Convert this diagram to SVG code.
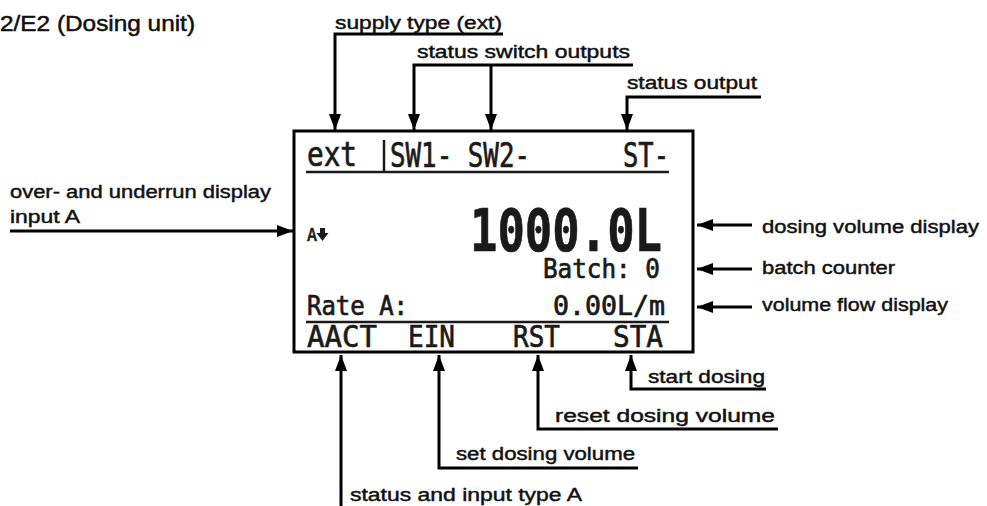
<svg xmlns="http://www.w3.org/2000/svg" width="987" height="506" viewBox="0 0 987 506">
<style>
.lbl{font-family:"Liberation Sans",Arial,sans-serif;font-size:18px;fill:#111;stroke:#111;stroke-width:0.45}
.ttl{font-family:"Liberation Sans",Arial,sans-serif;font-size:22px;fill:#111;stroke:#111;stroke-width:0.5}
.lcd{font-family:"DejaVu Sans Mono",monospace;fill:#1a1a1a;stroke:#1a1a1a;stroke-width:0.7}
.ln{stroke:#000;stroke-width:3;fill:none}
.lcdl{stroke:#1a1a1a;stroke-width:2.5;fill:none}
</style>
<defs>
<marker id="ah" viewBox="0 0 16 12" refX="16" refY="6" markerWidth="16" markerHeight="12" markerUnits="userSpaceOnUse" orient="auto">
<path d="M0,0 L16,6 L0,12 Z" fill="#000"/>
</marker>
</defs>
<text class="ttl" x="0" y="31" textLength="195" lengthAdjust="spacingAndGlyphs">2/E2 (Dosing unit)</text>

<g id="display">
<rect x="294" y="131" width="399" height="221" fill="#fff" stroke="#000" stroke-width="3"/>
<line class="lcdl" x1="306" y1="172" x2="669" y2="172"/>
<line class="lcdl" x1="384" y1="140" x2="384" y2="172"/>
<line class="lcdl" x1="306" y1="322" x2="669" y2="322"/>
<text class="lcd" x="307" y="166" font-size="33" textLength="50" lengthAdjust="spacingAndGlyphs">ext</text>
<text class="lcd" x="390" y="167" font-size="33" textLength="140" lengthAdjust="spacingAndGlyphs">SW1- SW2-</text>
<text class="lcd" x="623" y="167" font-size="33" textLength="46" lengthAdjust="spacingAndGlyphs">ST-</text>
<text class="lcd" x="307" y="241" font-size="18" textLength="10" lengthAdjust="spacingAndGlyphs">A</text>
<path d="M320,228 h5 v5 h3.5 l-6,8 l-6,-8 h3.5 z" fill="#1a1a1a"/>
<text class="lcd" x="470" y="251" font-size="59" font-weight="bold" stroke-width="0.4" textLength="192" lengthAdjust="spacingAndGlyphs">1000.0L</text>
<text class="lcd" x="543" y="278" font-size="26" textLength="117" lengthAdjust="spacingAndGlyphs">Batch: 0</text>
<text class="lcd" x="307" y="315" font-size="26" textLength="101" lengthAdjust="spacingAndGlyphs">Rate A:</text>
<text class="lcd" x="553" y="315" font-size="26" textLength="112" lengthAdjust="spacingAndGlyphs">0.00L/m</text>
<text class="lcd" x="307" y="347" font-size="31" textLength="70" lengthAdjust="spacingAndGlyphs">AACT</text>
<text class="lcd" x="408" y="347" font-size="31" textLength="47" lengthAdjust="spacingAndGlyphs">EIN</text>
<text class="lcd" x="513" y="347" font-size="31" textLength="47" lengthAdjust="spacingAndGlyphs">RST</text>
<text class="lcd" x="613" y="347" font-size="31" textLength="50" lengthAdjust="spacingAndGlyphs">STA</text>
</g>

<g id="connectors">
<path class="ln" d="M503,34 H335 V130" marker-end="url(#ah)"/>
<path class="ln" d="M633,65 H414 V130" marker-end="url(#ah)"/>
<path class="ln" d="M491,65 V130" marker-end="url(#ah)"/>
<path class="ln" d="M761,97 H627 V130" marker-end="url(#ah)"/>
<path class="ln" d="M10,231 H293" marker-end="url(#ah)"/>
<path class="ln" d="M752,225 H697" marker-end="url(#ah)"/>
<path class="ln" d="M752,269 H697" marker-end="url(#ah)"/>
<path class="ln" d="M752,307 H697" marker-end="url(#ah)"/>
<path class="ln" d="M341,506 V355" marker-end="url(#ah)"/>
<path class="ln" d="M638,468 H439 V355" marker-end="url(#ah)"/>
<path class="ln" d="M778,429 H538 V355" marker-end="url(#ah)"/>
<path class="ln" d="M766,389 H631 V355" marker-end="url(#ah)"/>
</g>

<g id="lbl-supply"><text class="lbl" x="335" y="29" textLength="167" lengthAdjust="spacingAndGlyphs">supply type (ext)</text></g>
<g id="lbl-switch"><text class="lbl" x="417" y="58" textLength="213" lengthAdjust="spacingAndGlyphs">status switch outputs</text></g>
<g id="lbl-status"><text class="lbl" x="627" y="89" textLength="130" lengthAdjust="spacingAndGlyphs">status output</text></g>
<g id="lbl-overrun"><text class="lbl" x="10" y="198" textLength="261" lengthAdjust="spacingAndGlyphs">over- and underrun display</text><text class="lbl" x="10" y="223" textLength="70" lengthAdjust="spacingAndGlyphs">input A</text></g>
<g id="lbl-dosvol"><text class="lbl" x="762" y="233" textLength="217" lengthAdjust="spacingAndGlyphs">dosing volume display</text></g>
<g id="lbl-batch"><text class="lbl" x="762" y="274" textLength="133" lengthAdjust="spacingAndGlyphs">batch counter</text></g>
<g id="lbl-flow"><text class="lbl" x="762" y="311" textLength="186" lengthAdjust="spacingAndGlyphs">volume flow display</text></g>
<g id="lbl-start"><text class="lbl" x="648" y="383" textLength="117" lengthAdjust="spacingAndGlyphs">start dosing</text></g>
<g id="lbl-reset"><text class="lbl" x="555" y="422" textLength="220" lengthAdjust="spacingAndGlyphs">reset dosing volume</text></g>
<g id="lbl-set"><text class="lbl" x="456" y="460" textLength="179" lengthAdjust="spacingAndGlyphs">set dosing volume</text></g>
<g id="lbl-statusA"><text class="lbl" x="350" y="501" textLength="232" lengthAdjust="spacingAndGlyphs">status and input type A</text></g>
</svg>
